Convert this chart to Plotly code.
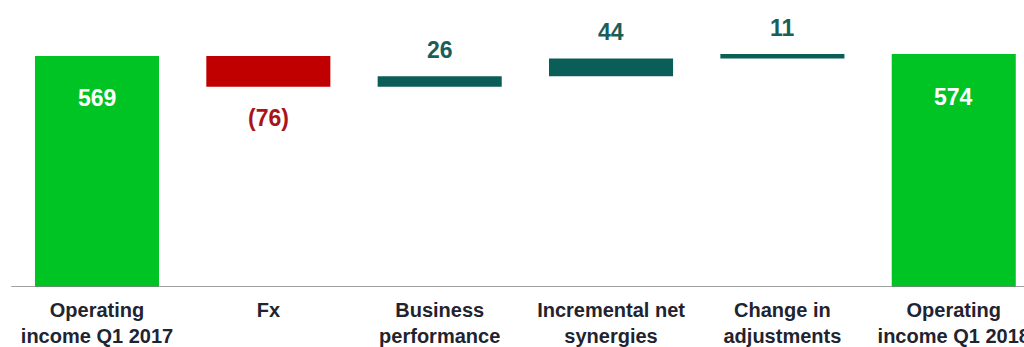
import plotly.graph_objects as go

categories = ["Operating<br>income Q1 2017", "Fx", "Business<br>performance",
              "Incremental net<br>synergies", "Change in<br>adjustments",
              "Operating<br>income Q1 2018"]
values = [569, -76, 26, 44, 11, 574]
measures = ["absolute", "relative", "relative", "relative", "relative", "total"]
labels = ["569", "(76)", "26", "44", "11", "574"]

GREEN = "#00C424"
RED = "#C00000"
TEAL = "#0B5D58"
FONT = "Liberation Sans, Arial, sans-serif"

fig = go.Figure(go.Waterfall(
    x=list(range(len(categories))),
    y=values,
    measure=measures,
    increasing=dict(marker=dict(color=TEAL)),
    decreasing=dict(marker=dict(color=RED)),
    totals=dict(marker=dict(color=GREEN)),
    connector=dict(visible=False),
    textposition="none",
    hoverinfo="skip",
))

# label annotations anchored to data values
running = 0
for i, (v, m, lab) in enumerate(zip(values, measures, labels)):
    if m == "absolute":
        running = v
        y, shift, col = v, -42, "white"
    elif m == "total":
        y, shift, col = running, -43, "white"
    else:
        running += v
        if v < 0:
            y, shift, col = running, -31, "#A8141A"
        else:
            y, shift, col = running, 26, "#1B5E59"
    fig.add_annotation(x=i, y=y, yshift=shift, text="<b>%s</b>" % lab,
                       showarrow=False, yanchor="middle",
                       font=dict(family=FONT, size=23, color=col))

fig.add_shape(type="line", xref="x", yref="y", x0=-0.5, x1=5.6, y0=0, y1=0,
              line=dict(color="#808080", width=1.5))

fig.update_layout(
    width=1024, height=347,
    margin=dict(l=0, r=0, t=0, b=60),
    paper_bgcolor="white", plot_bgcolor="white",
    waterfallgap=0.276,
    showlegend=False,
    font=dict(family=FONT),
    xaxis=dict(range=[-0.566, 5.41], tickmode="array",
               tickvals=list(range(len(categories))),
               ticktext=["<b>%s</b>" % c for c in categories],
               tickfont=dict(family=FONT, size=20, color="#1F2430"),
               ticklabeloverflow="allow", ticklabelstandoff=9,
               showgrid=False, zeroline=False, showline=False,
               ticks="", automargin=False),
    yaxis=dict(range=[0, 707], visible=False, showgrid=False,
               zeroline=False, automargin=False),
)

fig.write_html("out.html")
